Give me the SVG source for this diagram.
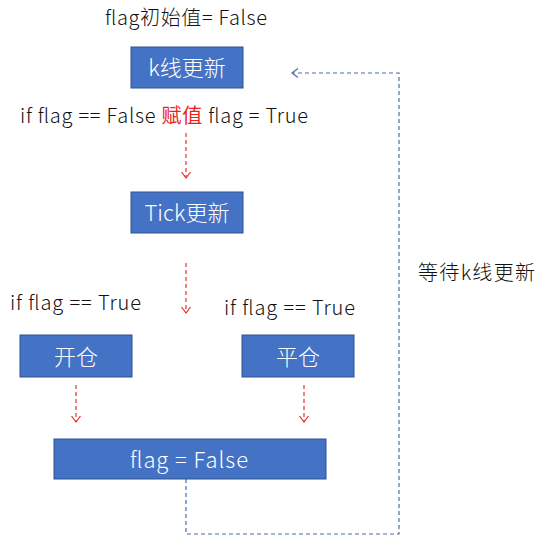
<svg xmlns="http://www.w3.org/2000/svg" width="548" height="536" viewBox="0 0 548 536">
  <style>
    text { font-family: "Noto Sans CJK SC", "Microsoft YaHei", "Noto Sans", sans-serif; font-weight: 300; }
    .box { fill: #4472C4; stroke: #2F528F; stroke-width: 1; }
    .bt { fill: #ffffff; font-size: 22px; text-anchor: middle; dominant-baseline: central; }
    .lbl { fill: #111111; font-size: 20px; }
    .red { fill: none; stroke: #E3342B; stroke-width: 1.2; stroke-dasharray: 4 3; }
    .blue { fill: none; stroke: #4A6EA8; stroke-width: 1.2; stroke-dasharray: 4 3; }
  </style>
  <defs>
    <marker id="ar" markerUnits="userSpaceOnUse" markerWidth="10" markerHeight="12" refX="6" refY="5" orient="auto">
      <path d="M0,0.5 L6,5 L0,9.5" fill="none" stroke="#E3342B" stroke-width="1.2"/>
    </marker>
    <marker id="ab" markerUnits="userSpaceOnUse" markerWidth="10" markerHeight="12" refX="6" refY="5" orient="auto">
      <path d="M0,0.5 L6,5 L0,9.5" fill="none" stroke="#4A6EA8" stroke-width="1.2"/>
    </marker>
  </defs>
  <rect width="548" height="536" fill="#ffffff"/>

  <text class="lbl" x="105" y="25" textLength="162" lengthAdjust="spacing">flag初始值= False</text>
  <text class="lbl" x="20" y="123" textLength="288" lengthAdjust="spacing">if flag == False <tspan fill="#E8241A" font-weight="400">赋值</tspan> flag = True</text>
  <text class="lbl" x="10" y="310" textLength="131" lengthAdjust="spacing">if flag == True</text>
  <text class="lbl" x="224" y="315" textLength="131" lengthAdjust="spacing">if flag == True</text>
  <text class="lbl" x="418" y="280" textLength="117" lengthAdjust="spacing">等待k线更新</text>

  <g id="connectors">
    <path class="red" d="M186,133 V178" marker-end="url(#ar)"/>
    <path class="red" d="M186,263 V313" marker-end="url(#ar)"/>
    <path class="red" d="M76,385 V422" marker-end="url(#ar)"/>
    <path class="red" d="M304,385 V422" marker-end="url(#ar)"/>
    <path class="blue" d="M186,479 V534 H399 V73 H292" marker-end="url(#ab)"/>
  </g>

  <g id="node-kline">
    <rect class="box" x="131" y="47" width="112" height="41"/>
    <text class="bt" x="187" y="66">k线更新</text>
  </g>
  <g id="node-tick">
    <rect class="box" x="131" y="192" width="112" height="41"/>
    <text class="bt" x="187" y="211">Tick更新</text>
  </g>
  <g id="node-open">
    <rect class="box" x="20" y="335" width="112" height="42"/>
    <text class="bt" x="76" y="355">开仓</text>
  </g>
  <g id="node-close">
    <rect class="box" x="242" y="335" width="112" height="42"/>
    <text class="bt" x="298" y="355">平仓</text>
  </g>
  <g id="node-flag">
    <rect class="box" x="54" y="439" width="272" height="40"/>
    <text class="bt" x="189" y="458" textLength="118" lengthAdjust="spacing">flag = False</text>
  </g>
</svg>
